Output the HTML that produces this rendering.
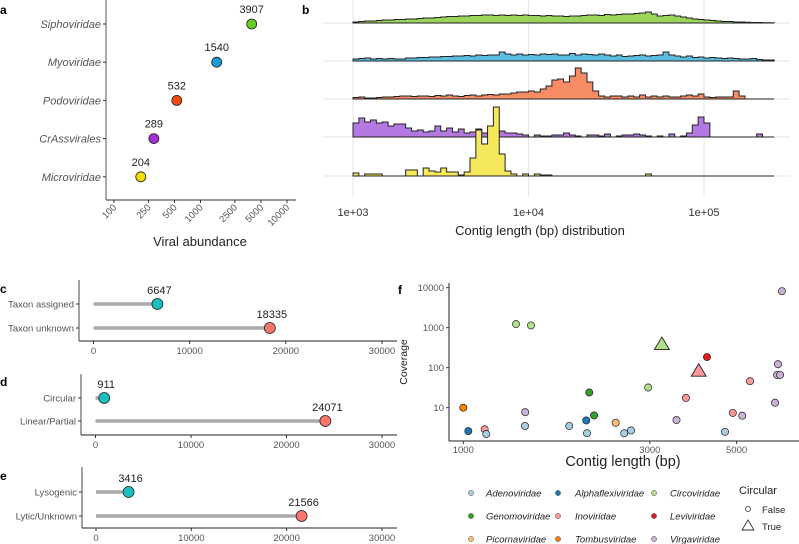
<!DOCTYPE html>
<html><head><meta charset="utf-8"><style>
html,body{margin:0;padding:0;background:#fff;}
svg{display:block;font-family:"Liberation Sans",Arial,sans-serif;}
</style></head><body>
<svg id="fig" width="799" height="544" viewBox="0 0 799 544">
<g id="pa"></g>
<g id="pb"></g>
<g id="pc"></g>
<g id="pd"></g>
<g id="pe"></g>
<g id="pf"></g>
</svg>
<script>
// ---- Panel a data ----
const aCats = ["Siphoviridae","Myoviridae","Podoviridae","CrAssvirales","Microviridae"];
const aVals = [3907,1540,532,289,204];
const aColors = ["#66cc22","#1f9ad6","#f24a11","#a033d0","#f5dd00"];
const aTicks = [100,250,500,1000,2500,5000,10000];
// ---- Panel b data (bin heights, 30 bins per decade from 1e3) ----
const bGreen = [1,1.5,2,2,2.5,3,3,3.5,3.5,4,4,4.5,5,5,5.5,6,6.5,6.5,7,7,7.5,7.5,8,8,7.5,8,7.5,8,7.5,8,
7.5,7.5,7,7.5,7,7,6.5,7,7,7.5,8,8,7.5,8.5,8,8.5,9,9,9.5,10,11,9,7,7.5,8,7,6,5,4,3.5,
3,2.5,2,1.5,1.5,1,1,0.8,0.5,0.5,0.3,0.3];
const bBlue = [2,2.5,3,2,2.5,2,2.5,2,2,3,3,3.5,3.5,4,4,4.5,4.5,5,5,5.5,5,6,5.5,6,6,9,7,6,7,6,
6.5,6,7,6.5,7,6,6,7.5,6,7,6.5,6,7,6,5,6,4.5,5,5.5,6,5,5.5,6,9,6,5,4,5,3.5,4,
3,3.5,3,2.5,3,2.5,2,2,2.5,1.5,1,1];
const bOrange = [1.5,2,1,1,1.5,2,2,2.5,3,3,2.5,3,3,2.5,3.5,3,4,3,2.5,3.5,4,3,4,4.5,4,5,5,6,7,7,
8,7,10,13,19,20,17,23,31,26,17,8,3,2,3,3,2,3,2,4,2,3,2,3,2,2,3,4,3,5,
2,1.5,2,2,2,8,3,0,0,0,0,0];
const bPurple = [14,19,15,17,14,15,11,13,13,9,6,7,5,6,11,6,9,5,8,4,5,8,4,4,3,6,4,4,3,2,
0,2,1,1,2,2,4,2,1,0,2,2,1,3,0,1,2,2,3,2,1,0,1,0,3,0,1,4,12,20,
14,0,0,0,0,0,0,0,0,3,0,0];
const bYellow = [3,0,2,2,2,0,0,0,0,6,6,0,8,5,4,8,4,4,1,4,18,46,32,50,69,22,5,2,0,2,
0,2,1,1,0,0,0,0,0,0,0,0,0,0,0,0,0,0,0,0,2,0,0,0,0,0,0,0,0,0,
0,0,0,0,0,0,0,0,0,0,0,0];
const bTicks = ["1e+03","1e+04","1e+05"];
// ---- Panels c-e data ----
const cCats = ["Taxon assigned","Taxon unknown"]; const cVals = [6647,18335];
const dCats = ["Circular","Linear/Partial"]; const dVals = [911,24071];
const eCats = ["Lysogenic","Lytic/Unknown"]; const eVals = [3416,21566];
const lolTicks = [0,10000,20000,30000];
// ---- Panel f data ----
const fFamilies = ["Adenoviridae","Alphaflexiviridae","Circoviridae","Genomoviridae","Inoviridae","Leviviridae","Picornaviridae","Tombusviridae","Virgaviridae"];
const fColors = ["#a6cee3","#1f78b4","#b2df8a","#33a02c","#fb9a99","#e31a1c","#fdbf6f","#ff7f00","#cab2d6"];
const fLength = [1000,1030,1134,1145,1364,1490,1440,1438,1866,2072,2063,2100,2160,2453,2580,2685,2970,3220,3510,3710,4000,4200,4670,4890,5170,5410,6270,6380,6350,6460,6530];
const fCoverage = [10,2.6,2.9,2.2,1230,1140,7.7,3.5,3.5,2.3,4.8,24,6.4,4.2,2.3,2.7,32,390,4.9,17.5,84,185,2.5,7.4,6.3,46,13.3,122,66,66,8200];
const fFamily = [7,1,4,0,2,2,8,0,0,0,1,3,3,6,0,0,2,2,8,4,4,5,0,4,8,4,8,8,8,8,8];
const fCircular = [0,0,0,0,0,0,0,0,0,0,0,0,0,0,0,0,0,1,0,0,1,0,0,0,0,0,0,0,0,0,0];
const fXTicks = [1000,3000,5000];
const fYTicks = [10,100,1000,10000];

const NS="http://www.w3.org/2000/svg";
function mk(parent,tag,attrs,txt){const e=document.createElementNS(NS,tag);for(const k in attrs)e.setAttribute(k,attrs[k]);if(txt!==undefined)e.textContent=txt;parent.appendChild(e);return e;}

// ===== Panel a =====
(function(){
const g=document.getElementById('pa');
const xs=v=>114+86.5*Math.log10(v/100);
const ys=i=>24+i*38.2;
let t=mk(g,'text',{x:0,y:14,'font-size':12,'font-weight':'bold'},'a');


let l=mk(g,'line',{x1:106,y1:0,x2:106,y2:200,stroke:'#555','stroke-width':1});


l=mk(g,'line',{x1:106,y1:200,x2:296,y2:200,stroke:'#333','stroke-width':1});


aTicks.forEach(v=>{const x=xs(v);
 mk(g,'line',{x1:x,y1:200,x2:x,y2:203,stroke:'#333'});
 const tt=mk(g,'text',{x:x+3,y:208,'font-size':9.5,fill:'#555','text-anchor':'end',transform:`rotate(-45 ${x+3} 208)`},String(v));
 
 
});
aCats.forEach((c,i)=>{const y=ys(i);
 mk(g,'line',{x1:103,y1:y,x2:106,y2:y,stroke:'#333'});
 const tt=mk(g,'text',{x:101,y:y+4,'font-size':11,fill:'#555','font-style':'italic','text-anchor':'end'},c);
 
 
 const x=xs(aVals[i]);
 const p=mk(g,'circle',{cx:x,cy:y,r:5,fill:aColors[i],stroke:'#222','stroke-width':0.8});
 
 
 const vl=mk(g,'text',{x:x,y:y-11,'font-size':11,fill:'#222','text-anchor':'middle'},String(aVals[i]));
 
 
});
t=mk(g,'text',{x:200,y:246,'font-size':13,fill:'#222','text-anchor':'middle'},'Viral abundance');


})();

// ===== Panel b =====
(function(){
const g=document.getElementById('pb');
const xs=v=>353+175.5*Math.log10(v/1000);
const series=[[bGreen,'#9bd45a',23],[bBlue,'#5bbde0',61],[bOrange,'#f58c63',99],[bPurple,'#b479e0',137],[bYellow,'#f5e85a',176]];
let t=mk(g,'text',{x:302,y:14,'font-size':12,'font-weight':'bold'},'b');


[1e3,1e4,1e5].forEach(v=>{const x=xs(v);const gl=mk(g,'line',{x1:x,y1:0,x2:x,y2:196,stroke:'#e6e6e6','stroke-width':1});
 
 });
series.forEach(s=>{const gl=mk(g,'line',{x1:323,y1:s[2],x2:790,y2:s[2],stroke:'#e6e6e6','stroke-width':1});
 
 });
const names=['sipho','myo','podo','crass','micro'];
series.forEach((s,si)=>{const arr=s[0],base=s[2];
 let d=`M${xs(1000)},${base}`;
 arr.forEach((h,i)=>{const x0=xs(Math.pow(10,3+i/30)),x1=xs(Math.pow(10,3+(i+1)/30));d+=` L${x0},${base-h} L${x1},${base-h}`;});
 d+=` L${xs(Math.pow(10,3+arr.length/30))},${base} Z`;
 const p=mk(g,'path',{d:d,fill:s[1],stroke:'#222','stroke-width':1,'stroke-linejoin':'miter'});
 
 
});
bTicks.forEach((lab,i)=>{const tt=mk(g,'text',{x:xs(Math.pow(10,3+i)),y:216,'font-size':11,fill:'#333','text-anchor':'middle'},lab);
 
 });
t=mk(g,'text',{x:540,y:235,'font-size':13,fill:'#222','text-anchor':'middle'},'Contig length (bp) distribution');


})();

// ===== Lollipop panels =====
function lolli(id,label,cats,vals,ax,x0,top,bot,y1,y2,labY){
 const g=document.getElementById(id);
 const xs=v=>x0+(382-x0)*v/30000*((382-x0+0)/(382-x0));
 let t=mk(g,'text',{x:0,y:labY,'font-size':12,'font-weight':'bold'},label);
 
 
 let l=mk(g,'line',{x1:ax,y1:top,x2:ax,y2:bot,stroke:'#444'});
 
 
 l=mk(g,'line',{x1:ax,y1:bot,x2:397,y2:bot,stroke:'#222'});
 
 
 lolTicks.forEach(v=>{const x=xs(v);mk(g,'line',{x1:x,y1:bot,x2:x,y2:bot+3,stroke:'#333'});
  const tt=mk(g,'text',{x:x,y:bot+13,'font-size':9.5,fill:'#555','text-anchor':'middle'},String(v));
  
  });
 const cols=['#1bbfc2','#f8766d'];
 [y1,y2].forEach((y,i)=>{
  mk(g,'line',{x1:ax-3,y1:y,x2:ax,y2:y,stroke:'#333'});
  const cl=mk(g,'text',{x:ax-5,y:y+3.5,'font-size':9.5,fill:'#555','text-anchor':'end'},cats[i]);
  
  
  const st=mk(g,'line',{x1:xs(0),y1:y,x2:xs(vals[i]),y2:y,stroke:'#aaa','stroke-width':3.5});
  
  
  const c=mk(g,'circle',{cx:xs(vals[i]),cy:y,r:5.5,fill:cols[i],stroke:'#222','stroke-width':0.8});
  
  
  const vl=mk(g,'text',{x:xs(vals[i])+2,y:y-10,'font-size':11,fill:'#222','text-anchor':'middle'},String(vals[i]));
  
  
 });
}
lolli('pc','c',cCats,cVals,79,93.5,280,341,304,328,293);
lolli('pd','d',dCats,dVals,81,95.5,374,435,398,421,386);
lolli('pe','e',eCats,eVals,82,96,467,528,492,516,480);

// ===== Panel f =====
(function(){
const g=document.getElementById('pf');
const xs=v=>463.3+391*Math.log10(v/1000);
const ys=v=>407.7-40*Math.log10(v/10);
let t=mk(g,'text',{x:398,y:294,'font-size':12,'font-weight':'bold'},'f');


let l=mk(g,'line',{x1:449,y1:283,x2:449,y2:441,stroke:'#222'});


l=mk(g,'line',{x1:449,y1:441,x2:799,y2:441,stroke:'#222'});


fXTicks.forEach(v=>{const x=xs(v);mk(g,'line',{x1:x,y1:441,x2:x,y2:444,stroke:'#333'});
 const tt=mk(g,'text',{x:x,y:453,'font-size':9.5,fill:'#555','text-anchor':'middle'},String(v));
 
 });
fYTicks.forEach(v=>{const y=ys(v);mk(g,'line',{x1:446,y1:y,x2:449,y2:y,stroke:'#333'});
 const tt=mk(g,'text',{x:444,y:y+3.5,'font-size':9.5,fill:'#555','text-anchor':'end'},String(v));
 
 });
t=mk(g,'text',{x:623,y:466,'font-size':14.5,fill:'#222','text-anchor':'middle'},'Contig length (bp)');


t=mk(g,'text',{x:407,y:362,'font-size':10.5,fill:'#222','text-anchor':'middle',transform:'rotate(-90 407 362)'},'Coverage');


fLength.forEach((L,i)=>{const x=xs(L),y=ys(fCoverage[i]),col=fColors[fFamily[i]];
 let p;
 if(fCircular[i]){p=mk(g,'polygon',{points:`${x},${y-7} ${x-7.5},${y+5.5} ${x+7.5},${y+5.5}`,fill:col,stroke:'#222','stroke-width':0.9});}
 else{p=mk(g,'circle',{cx:x,cy:y,r:3.6,fill:col,stroke:'#222','stroke-width':0.7});}
 
 
});
const colX=[[471,486],[558,575],[654,670]],rowY=[493,516,539];
fFamilies.forEach((f,i)=>{const cx=colX[i%3],y=rowY[Math.floor(i/3)];
 const c=mk(g,'circle',{cx:cx[0],cy:y,r:2.6,fill:fColors[i],stroke:'#444','stroke-width':0.5});
 
 
 const tt=mk(g,'text',{x:cx[1],y:y+3.5,'font-size':9.5,fill:'#222','font-style':'italic'},f);
 
 
});
t=mk(g,'text',{x:739,y:494,'font-size':11,fill:'#222'},'Circular');


let c=mk(g,'circle',{cx:748,cy:509,r:2.5,fill:'none',stroke:'#333','stroke-width':0.8});


t=mk(g,'text',{x:762,y:513,'font-size':9.5,fill:'#222'},'False');


c=mk(g,'polygon',{points:'748,520 742,530 754,530',fill:'none',stroke:'#333','stroke-width':0.9});


t=mk(g,'text',{x:762,y:530,'font-size':9.5,fill:'#222'},'True');


})();
</script>
</body></html>
